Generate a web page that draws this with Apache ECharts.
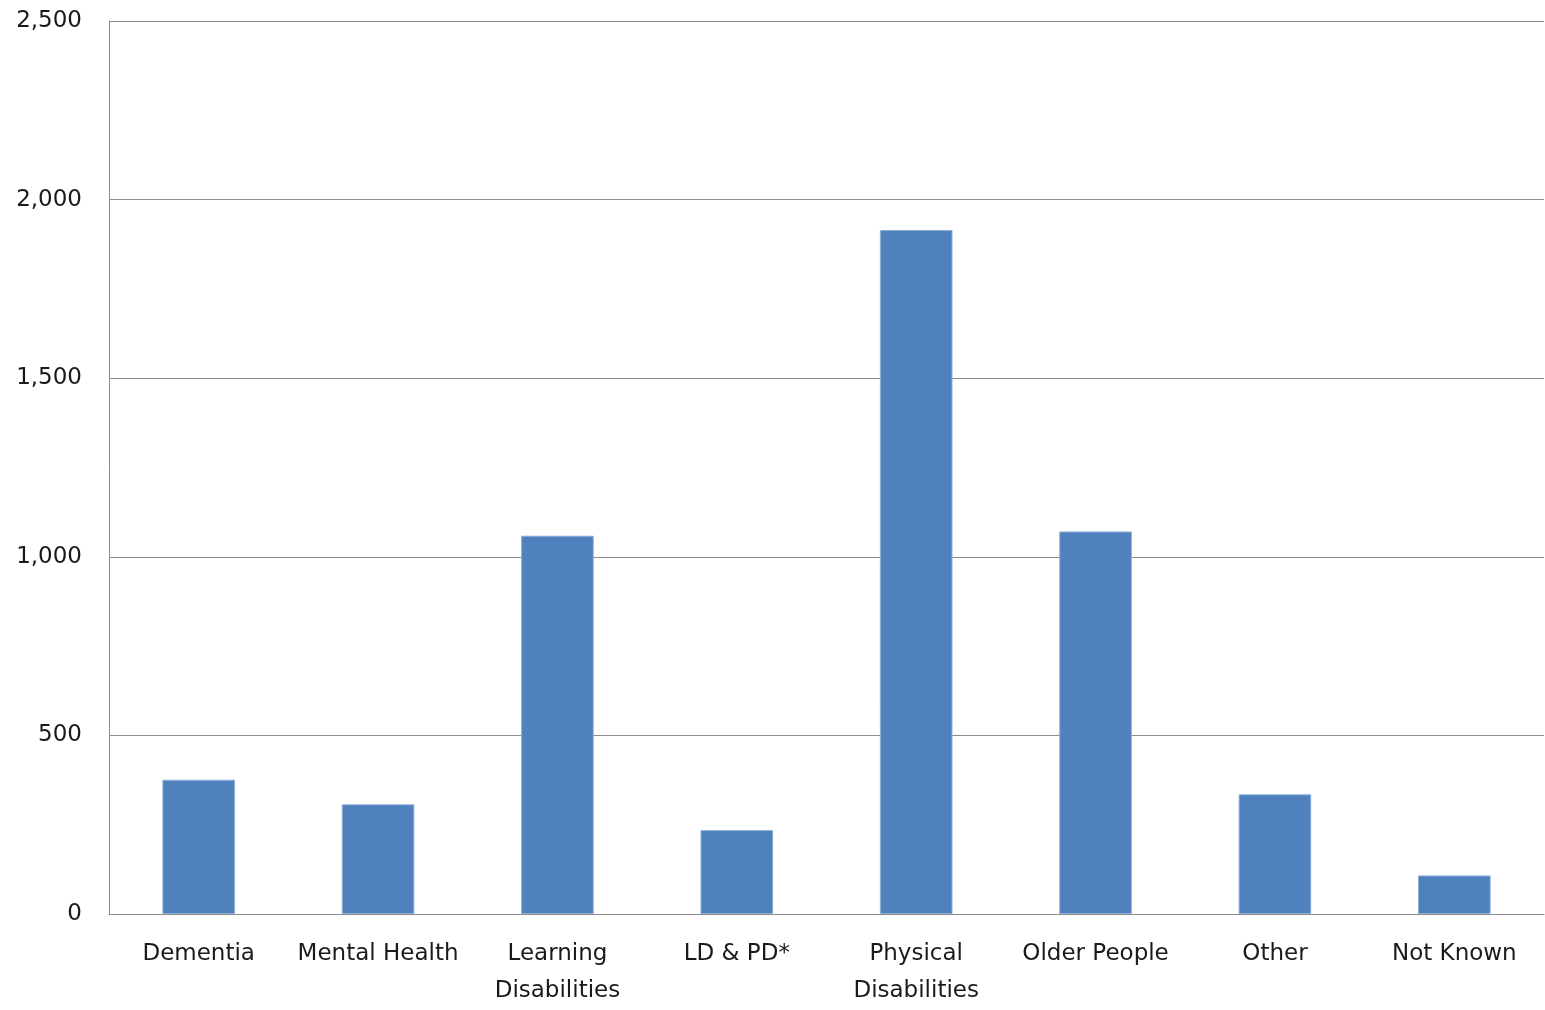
<!DOCTYPE html>
<html>
<head>
<meta charset="utf-8">
<script src="https://cdn.jsdelivr.net/npm/echarts@6/dist/echarts.min.js"></script>
<style>
  html, body { margin: 0; padding: 0; background: #fff; overflow: hidden; }
  #chart { width: 1545px; height: 1010px; }
</style>
</head>
<body>
<div id="chart"></div>
<script>
// Client groups and counts
const categories = ['Dementia', 'Mental Health', 'Learning\nDisabilities', 'LD & PD*', 'Physical\nDisabilities', 'Older People', 'Other', 'Not Known'];
const counts = [376, 307, 1059, 235, 1915, 1071, 335, 108];

// Value axis range
const yMin = 0;
const yMax = 2500;
const yStep = 500;

const chart = echarts.init(document.getElementById('chart'), null, { renderer: 'canvas' });

const labelFont = {
  fontFamily: '"DejaVu Sans", "Noto Sans", sans-serif',
  fontSize: 23,
  color: '#1a1a1a'
};

chart.setOption({
  animation: false,
  backgroundColor: '#ffffff',
  grid: { left: 109, right: 1, top: 21, bottom: 90, containLabel: false },
  xAxis: {
    type: 'category',
    data: categories,
    axisLine: { show: true, lineStyle: { color: '#8c8c8c', width: 1 } },
    axisTick: { show: false },
    axisLabel: Object.assign({ interval: 0, margin: 22, lineHeight: 37 }, labelFont),
    splitLine: { show: false }
  },
  yAxis: {
    type: 'value',
    min: yMin,
    max: yMax,
    interval: yStep,
    axisLine: { show: true, lineStyle: { color: '#8c8c8c', width: 1 } },
    axisTick: { show: false },
    axisLabel: Object.assign({
      margin: 27,
      formatter: v => v.toLocaleString('en-US')
    }, labelFont),
    splitLine: { show: true, lineStyle: { color: '#8c8c8c', width: 1 } }
  },
  series: [{
    type: 'bar',
    data: counts,
    barWidth: '40.5%',
    itemStyle: { color: '#4F81BD', borderColor: '#8EB0DB', borderWidth: 1 }
  }]
});
</script>
</body>
</html>
